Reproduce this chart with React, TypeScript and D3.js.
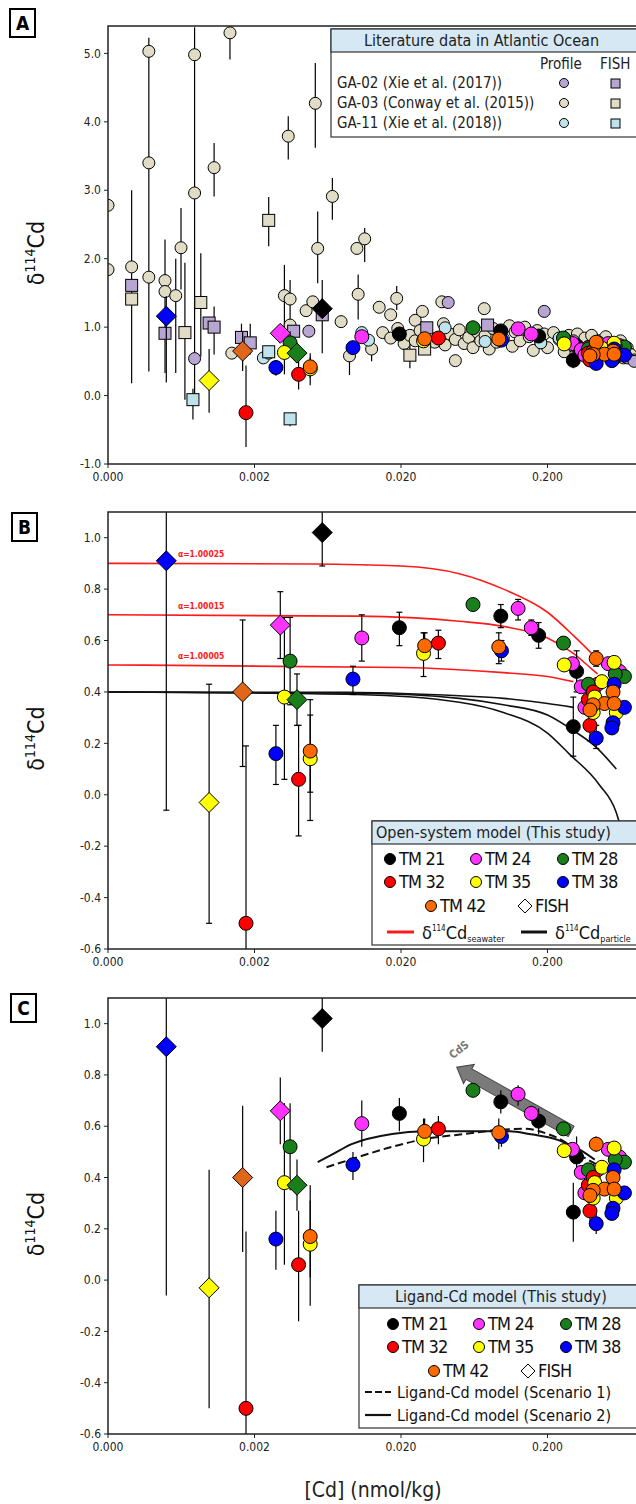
import React from 'react'
import * as d3 from 'd3'

// [x (nmol/kg), d114Cd, errLo?, errHi?]
type Pt = [number, number, number?, number?]

const stations = ['TM 21', 'TM 24', 'TM 28', 'TM 32', 'TM 35', 'TM 38', 'TM 42']
const stationColors = ['#000000', '#ff33ff', '#1a7f1a', '#ff0000', '#ffff00', '#0000ff', '#ff6a00']

const tm21: Pt[] = [[0.0195, 0.65, 0.58, 0.71], [0.096, 0.695, 0.65, 0.74], [0.174, 0.62, 0.57, 0.67], [0.3, 0.265, 0.15, 0.38], [0.316, 0.48, 0.4, 0.56]]
const tm24: Pt[] = [[0.0108, 0.61, 0.52, 0.7], [0.126, 0.725, 0.68, 0.76], [0.155, 0.65, 0.62, 0.68], [0.296, 0.51], [0.34, 0.42], [0.52, 0.51], [0.62, 0.48], [0.44, 0.43], [0.36, 0.34]]
const tm28: Pt[] = [[0.0035, 0.52, 0.35, 0.69], [0.062, 0.74], [0.257, 0.59], [0.67, 0.46], [0.38, 0.43], [0.58, 0.47]]
const tm32: Pt[] = [[0.00175, -0.5, -1.0, 0.19], [0.004, 0.06, -0.16, 0.27], [0.036, 0.59, 0.53, 0.64], [0.39, 0.27, 0.21, 0.33], [0.38, 0.37], [0.41, 0.4]]
const tm35: Pt[] = [[0.0032, 0.38, 0.06, 0.69], [0.0048, 0.14, -0.1, 0.37], [0.0285, 0.55, 0.46, 0.63], [0.26, 0.505], [0.47, 0.44], [0.57, 0.515], [0.59, 0.32], [0.41, 0.32], [0.42, 0.38]]
const tm38: Pt[] = [[0.0028, 0.16, 0.04, 0.27], [0.0094, 0.45, 0.39, 0.5], [0.097, 0.56, 0.52, 0.6], [0.57, 0.43], [0.67, 0.34], [0.56, 0.28], [0.55, 0.26], [0.43, 0.22, 0.18, 0.27]]
const tm42: Pt[] = [[0.0048, 0.17, 0.01, 0.31], [0.029, 0.58, 0.53, 0.63], [0.093, 0.575, 0.51, 0.63], [0.43, 0.53, 0.5, 0.56], [0.56, 0.4], [0.49, 0.355], [0.57, 0.355], [0.41, 0.35], [0.39, 0.33]]
const stationData = [tm21, tm24, tm28, tm32, tm35, tm38, tm42]

// FISH samples: [station index, x, y, lo, hi]
const fish: [number, number, number, number, number][] = [
  [5, 0.0005, 0.91, -0.06, 1.2], [0, 0.0058, 1.02, 0.89, 1.15], [1, 0.003, 0.66, 0.53, 0.79],
  [6, 0.00166, 0.4, 0.11, 0.68], [2, 0.0039, 0.37, 0.27, 0.47], [4, 0.00098, -0.03, -0.5, 0.43],
]
const fishColors = ['#000000', '#ff33ff', '#1a7f1a', '#ff0000', '#ffff00', '#0000ff', '#e0661a']
// panel A is plotted on a different reference standard
const offsetA = 0.25

const ga03Profile: Pt[] = [
  [0.0002, 2.78], [0.0002, 1.84], [0.00029, 1.88], [0.00038, 5.03], [0.00038, 3.4, 0.35, 5.23], [0.00038, 1.73],
  [0.00049, 1.68], [0.00049, 1.52], [0.00058, 1.46, 0.33, 2.0], [0.00063, 2.16, 1.55, 2.74], [0.00078, 4.98],
  [0.00078, 2.96, 0.03, 5.38], [0.00106, 3.33, 2.91, 3.69], [0.00136, 5.3, 4.91, 5.4], [0.0014, 0.62],
  [0.0032, 1.46, 0.91, 1.91], [0.0035, 1.41, 0.91, 1.69], [0.0034, 3.79, 3.45, 4.08], [0.0035, 1.03],
  [0.0045, 1.24], [0.005, 1.37], [0.0052, 4.27, 3.62, 4.86], [0.0054, 2.15, 1.64, 2.69], [0.0068, 2.91, 2.57, 3.18],
  [0.0078, 1.08], [0.0089, 0.58, 0.3, 0.75], [0.01, 2.15], [0.0113, 2.29, 1.95, 2.45], [0.0102, 1.48, 1.11, 1.77],
  [0.0126, 0.68, 0.5, 0.8], [0.0142, 1.29], [0.017, 1.18], [0.0187, 1.42, 1.25, 1.6], [0.025, 1.1], [0.028, 1.23],
  [0.038, 1.37], [0.039, 1.05], [0.047, 0.51], [0.074, 1.27],
  [0.015, 0.92], [0.017, 0.84], [0.019, 0.98], [0.021, 0.76], [0.023, 0.88], [0.025, 0.8], [0.027, 0.95],
  [0.029, 0.72], [0.031, 0.86], [0.034, 0.78], [0.037, 0.83], [0.04, 0.74], [0.043, 0.9], [0.047, 0.82],
  [0.05, 0.96], [0.054, 0.76], [0.058, 0.85], [0.062, 0.7], [0.066, 0.93], [0.07, 0.8], [0.075, 0.88],
  [0.08, 0.68], [0.085, 0.98], [0.09, 0.78], [0.095, 0.9], [0.1, 0.83], [0.11, 1.02], [0.115, 0.72],
  [0.12, 0.93], [0.13, 0.8], [0.14, 1.0], [0.15, 0.86], [0.16, 0.66], [0.17, 0.95], [0.18, 0.78],
  [0.19, 0.9], [0.2, 0.7], [0.22, 0.92], [0.24, 0.82], [0.26, 0.64], [0.28, 0.88], [0.3, 0.76],
  [0.32, 0.9], [0.34, 0.66], [0.36, 0.84], [0.38, 0.72], [0.4, 0.88], [0.42, 0.6], [0.45, 0.8],
  [0.48, 0.68], [0.5, 0.86], [0.53, 0.58], [0.56, 0.76], [0.6, 0.64], [0.63, 0.8], [0.66, 0.55],
  [0.7, 0.7], [0.74, 0.6], [0.78, 0.52],
]
const ga02Profile: Pt[] = [[0.00078, 0.54], [0.0047, 0.94], [0.042, 1.36], [0.19, 1.23], [0.3, 0.8], [0.45, 0.78], [0.6, 0.62], [0.7, 0.55], [0.78, 0.5], [0.37, 0.7], [0.55, 0.72]]
const ga11Profile: Pt[] = [[0.0023, 0.55], [0.0025, 0.62], [0.0108, 0.92], [0.012, 0.81], [0.04, 0.99], [0.075, 0.79], [0.18, 0.77], [0.24, 0.84], [0.3, 0.72], [0.5, 0.66], [0.62, 0.6]]
const ga02Fish: Pt[] = [[0.00029, 1.61], [0.00049, 0.91, 0.33, 2.28], [0.00098, 1.06], [0.00106, 1.0, 0.6, 1.3], [0.00163, 0.85, 0.6, 1.05], [0.00187, 0.77, 0.6, 1.05], [0.0037, 0.94], [0.0058, 1.18, 0.62, 1.69], [0.03, 0.99], [0.078, 1.03]]
const ga03Fish: Pt[] = [[0.00029, 1.41, 0.18, 3.0], [0.00067, 0.92, -0.06, 1.94], [0.00086, 1.36, 0.57, 2.08], [0.0025, 2.56, 2.18, 2.9], [0.023, 0.59, 0.4, 0.75], [0.029, 0.68]]
const ga11Fish: Pt[] = [[0.00076, -0.06, -0.35, 0.1], [0.0025, 0.64], [0.0035, -0.34, -0.45, -0.3]]
const litColors = ['#b8a6d2', '#e0dcc6', '#bfe3ec']
const litLabels = ['GA-02 (Xie et al. (2017))', 'GA-03 (Conway et al. (2015))', 'GA-11 (Xie et al. (2018))']

// open-system model curves (panel B)
const seawater: [number, number][][] = [
  [[0.0002, 0.9], [0.005, 0.898], [0.02, 0.89], [0.05, 0.86], [0.1, 0.8], [0.2, 0.71], [0.3, 0.62], [0.4, 0.55], [0.45, 0.52]],
  [[0.0002, 0.7], [0.01, 0.695], [0.05, 0.675], [0.1, 0.655], [0.2, 0.61], [0.3, 0.55], [0.4, 0.49], [0.44, 0.47]],
  [[0.0002, 0.505], [0.02, 0.495], [0.1, 0.475], [0.2, 0.46], [0.3, 0.44]],
]
const alphaLabels = ['α=1.00025', 'α=1.00015', 'α=1.00005']
const particle: [number, number][][] = [
  [[0.0002, 0.4], [0.01, 0.398], [0.05, 0.385], [0.1, 0.375], [0.2, 0.355], [0.3, 0.34]],
  [[0.0002, 0.4], [0.01, 0.395], [0.05, 0.375], [0.1, 0.35], [0.2, 0.31], [0.3, 0.25], [0.42, 0.19], [0.59, 0.1]],
  [[0.0002, 0.4], [0.01, 0.39], [0.05, 0.36], [0.1, 0.32], [0.2, 0.24], [0.28, 0.16], [0.45, 0.04], [0.59, -0.07], [0.8, -0.41], [1.0, -0.8]],
]
// ligand-Cd model (panel C)
const scenario1: [number, number][] = [[0.0062, 0.44], [0.0096, 0.475], [0.0174, 0.52], [0.029, 0.55], [0.055, 0.57], [0.098, 0.587], [0.14, 0.59], [0.2, 0.57], [0.26, 0.54], [0.33, 0.49], [0.42, 0.455]]
const scenario2: [number, number][] = [[0.0054, 0.46], [0.0068, 0.49], [0.0092, 0.53], [0.0174, 0.57], [0.029, 0.58], [0.08, 0.58], [0.11, 0.58], [0.15, 0.57], [0.24, 0.545], [0.33, 0.51], [0.42, 0.47]]
const cdsArrow: [number, number][] = [[0.29, 0.58], [0.048, 0.83]]

const xTicks = [0.0002, 0.002, 0.02, 0.2]
const xTickLabels = ['0.000', '0.002', '0.020', '0.200']
const yTicksA = [-1, 0, 1, 2, 3, 4, 5]
const yTicksBC = [-0.6, -0.4, -0.2, 0, 0.2, 0.4, 0.6, 0.8, 1.0]

const FONT = '"DejaVu Sans Condensed", "DejaVu Sans", sans-serif'
const LEFT = 108
const RIGHT = 700

type PanelCfg = { id: string; top: number; bottom: number; domain: [number, number]; ticks: number[]; fmt: (v: number) => string }

const Marker = ({ kind, x, y, r, fill }: { kind: string; x: number; y: number; r: number; fill: string }) => {
  if (kind === 'circle') return <circle cx={x} cy={y} r={r} fill={fill} stroke="#000" strokeWidth={1} />
  if (kind === 'square') return <rect x={x - r} y={y - r} width={2 * r} height={2 * r} fill={fill} stroke="#000" strokeWidth={1} />
  return <path d={`M${x},${y - r}L${x + r},${y}L${x},${y + r}L${x - r},${y}Z`} fill={fill} stroke="#000" strokeWidth={1} />
}

const ErrBar = ({ x, y1, y2, cap }: { x: number; y1: number; y2: number; cap: boolean }) => (
  <g stroke="#000" strokeWidth={1.2}>
    <line x1={x} x2={x} y1={y1} y2={y2} />
    {cap && <line x1={x - 3} x2={x + 3} y1={y1} y2={y1} />}
    {cap && <line x1={x - 3} x2={x + 3} y1={y2} y2={y2} />}
  </g>
)

const StudyMarks = ({ x, y, off, cap }: { x: d3.ScaleLogarithmic<number, number>; y: d3.ScaleLinear<number, number>; off: number; cap: boolean }) => (
  <g>
    {stationData.map((pts, si) =>
      pts.map((p, i) => p[2] !== undefined ? <ErrBar key={`e${si}-${i}`} x={x(p[0])} y1={y(p[2]! + off)} y2={y(p[3]! + off)} cap={cap} /> : null))}
    {fish.map((f, i) => <ErrBar key={`fe${i}`} x={x(f[1])} y1={y(f[3] + off)} y2={y(f[4] + off)} cap={cap} />)}
    {stationData.map((pts, si) =>
      pts.map((p, i) => <Marker key={`m${si}-${i}`} kind="circle" x={x(p[0])} y={y(p[1] + off)} r={7} fill={stationColors[si]} />))}
    {fish.map((f, i) => <Marker key={`fm${i}`} kind="diamond" x={x(f[1])} y={y(f[2] + off)} r={10} fill={fishColors[f[0]]} />)}
  </g>
)

const Panel = ({ cfg, children }: { cfg: PanelCfg; children: (x: any, y: any) => React.ReactNode }) => {
  const x = d3.scaleLog().domain([0.0002, 2]).range([LEFT, LEFT + 146.5 * 4])
  const y = d3.scaleLinear().domain(cfg.domain).range([cfg.bottom, cfg.top])
  return (
    <g>
      <defs>
        <clipPath id={`clip${cfg.id}`}>
          <rect x={LEFT} y={cfg.top} width={RIGHT - LEFT} height={cfg.bottom - cfg.top} />
        </clipPath>
      </defs>
      <g clipPath={`url(#clip${cfg.id})`}>{children(x, y)}</g>
      <rect x={LEFT} y={cfg.top} width={RIGHT - LEFT} height={cfg.bottom - cfg.top} fill="none" stroke="#222" strokeWidth={1.5} />
      {cfg.ticks.map((t) => (
        <g key={t}>
          <line x1={LEFT - 4} x2={LEFT} y1={y(t)} y2={y(t)} stroke="#222" />
          <text x={LEFT - 7} y={y(t)} dy="0.35em" textAnchor="end" fontSize={12} fontFamily={FONT} fill="#222">{cfg.fmt(t)}</text>
        </g>
      ))}
      {xTicks.map((t, i) => (
        <g key={t}>
          <line x1={x(t)} x2={x(t)} y1={cfg.bottom} y2={cfg.bottom + 4} stroke="#222" />
          <text x={x(t)} y={cfg.bottom + 17} textAnchor="middle" fontSize={12} fontFamily={FONT} fill="#222">{xTickLabels[i]}</text>
        </g>
      ))}
      <text transform={`translate(44,${(cfg.top + cfg.bottom) / 2 + 8}) rotate(-90)`} textAnchor="middle" fontSize={23} fontFamily={FONT} fill="#111">
        δ<tspan fontSize={14} dy={-9}>114</tspan><tspan dy={9}>Cd</tspan>
      </text>
    </g>
  )
}

const Legend = ({ x, y, w, h, hh, title, tx }: { x: number; y: number; w: number; h: number; hh: number; title: string; tx: number }) => (
  <g>
    <rect x={x} y={y} width={w} height={h} fill="#fff" stroke="#333" strokeWidth={1.2} />
    <rect x={x} y={y} width={w} height={hh} fill="#d6e8f4" stroke="#333" strokeWidth={1.2} />
    <text x={tx} y={y + hh / 2} dy="0.36em" fontSize={16} fontFamily={FONT} fill="#222">{title}</text>
  </g>
)

const LabelBox = ({ x, y, t }: { x: number; y: number; t: string }) => (
  <g>
    <rect x={x} y={y} width={25} height={28} fill="#fff" stroke="#000" strokeWidth={2} />
    <text x={x + 12.5} y={y + 21} textAnchor="middle" fontSize={19} fontWeight="bold" fontFamily="DejaVu Sans, sans-serif">{t}</text>
  </g>
)

const StationLegend = ({ x0, y0 }: { x0: number; y0: number }) => {
  const cols = [x0, x0 + 86, x0 + 173]
  const order = [[0, 1, 2], [3, 4, 5]]
  return (
    <g fontFamily={FONT} fontSize={18} fill="#111">
      {order.map((row, ri) => row.map((si, ci) => (
        <g key={si}>
          <circle cx={cols[ci]} cy={y0 + ri * 23} r={5.5} fill={stationColors[si]} stroke="#000" />
          <text x={cols[ci] + 9} y={y0 + ri * 23} dy="0.36em" style={{ letterSpacing: '-0.8px' }}>{stations[si]}</text>
        </g>
      )))}
      <circle cx={x0 + 41} cy={y0 + 47} r={5.5} fill={stationColors[6]} stroke="#000" />
      <text x={x0 + 50} y={y0 + 47} dy="0.36em" style={{ letterSpacing: '-0.8px' }}>{stations[6]}</text>
      <path d={`M${x0 + 135},${y0 + 40}l7,7l-7,7l-7,-7z`} fill="#fff" stroke="#000" />
      <text x={x0 + 145} y={y0 + 47} dy="0.36em" style={{ letterSpacing: '-0.8px' }}>FISH</text>
    </g>
  )
}

export default function App() {
  const line = d3.line<[number, number]>().curve(d3.curveMonotoneX)
  const cfgA: PanelCfg = { id: 'A', top: 26, bottom: 464, domain: [-1.0, 5.4], ticks: yTicksA, fmt: (v) => v.toFixed(1) }
  const cfgB: PanelCfg = { id: 'B', top: 512, bottom: 949, domain: [-0.6, 1.1], ticks: yTicksBC, fmt: (v) => v.toFixed(1) }
  const cfgC: PanelCfg = { id: 'C', top: 998, bottom: 1434, domain: [-0.6, 1.1], ticks: yTicksBC, fmt: (v) => v.toFixed(1) }
  const lit: [Pt[], string, number][] = [
    [ga03Profile, 'circle', 1], [ga02Profile, 'circle', 0], [ga11Profile, 'circle', 2],
    [ga02Fish, 'square', 0], [ga03Fish, 'square', 1], [ga11Fish, 'square', 2],
  ]
  return (
    <svg width={636} height={1504} style={{ position: 'absolute', left: 0, top: 0, background: '#fff', fontStretch: 'condensed' }}>
      <rect width={636} height={1504} fill="#fff" />
      <Panel cfg={cfgA}>
        {(x, y) => (
          <g>
            {lit.map(([pts], li) => pts.map((p, i) => p[2] !== undefined ?
              <ErrBar key={`le${li}-${i}`} x={x(p[0])} y1={y(p[2]!)} y2={y(p[3]!)} cap={false} /> : null))}
            {lit.map(([pts, kind, ci], li) => pts.map((p, i) =>
              <Marker key={`lm${li}-${i}`} kind={kind} x={x(p[0])} y={y(p[1])} r={6} fill={litColors[ci]} />))}
            <StudyMarks x={x} y={y} off={offsetA} cap={false} />
          </g>
        )}
      </Panel>
      <Panel cfg={cfgB}>
        {(x, y) => (
          <g>
            {seawater.map((c, i) => <path key={`s${i}`} d={line(c.map(([a, b]) => [x(a), y(b)]))!} fill="none" stroke="#ff1a1a" strokeWidth={1.6} />)}
            {particle.map((c, i) => <path key={`p${i}`} d={line(c.map(([a, b]) => [x(a), y(b)]))!} fill="none" stroke="#111" strokeWidth={1.6} />)}
            {alphaLabels.map((t, i) => (
              <text key={t} x={x(0.0006)} y={y(seawater[i][0][1]) - 6} fontSize={8.5} fontWeight="bold" fill="#ff1a1a" fontFamily="DejaVu Sans, sans-serif">{t}</text>
            ))}
            <StudyMarks x={x} y={y} off={0} cap={true} />
          </g>
        )}
      </Panel>
      <Panel cfg={cfgC}>
        {(x, y) => {
          const [p0, p1] = cdsArrow.map(([a, b]) => [x(a), y(b)])
          const ang = Math.atan2(p1[1] - p0[1], p1[0] - p0[0])
          const len = Math.hypot(p1[0] - p0[0], p1[1] - p0[1])
          return (
            <g>
              <g transform={`translate(${p0[0]},${p0[1]}) rotate(${(ang * 180) / Math.PI})`}>
                <path d={`M0,-6L${len - 14},-6L${len - 14},-11L${len},0L${len - 14},11L${len - 14},6L0,6Z`} fill="#7a7a7a" stroke="#444" strokeWidth={1} />
              </g>
              <text transform={`translate(${p1[0] - 4},${p1[1] - 8}) rotate(-38)`} fontSize={11} fontWeight="bold" fill="#777" fontFamily="DejaVu Sans, sans-serif">CdS</text>
              <path d={line(scenario1.map(([a, b]) => [x(a), y(b)]))!} fill="none" stroke="#111" strokeWidth={2} strokeDasharray="8,4" />
              <path d={line(scenario2.map(([a, b]) => [x(a), y(b)]))!} fill="none" stroke="#111" strokeWidth={2} />
              <StudyMarks x={x} y={y} off={0} cap={false} />
            </g>
          )
        }}
      </Panel>

      {/* legend A */}
      <Legend x={331} y={29} w={320} h={108} hh={23} title="Literature data in Atlantic Ocean" tx={364} />
      <g fontFamily={FONT} fontSize={15} fill="#222">
        <text x={540} y={69}>Profile</text>
        <text x={600} y={69}>FISH</text>
        {litLabels.map((t, i) => (
          <g key={t}>
            <text x={337} y={83 + i * 20} dy="0.35em">{t}</text>
            <circle cx={564} cy={83 + i * 20} r={4.5} fill={litColors[i]} stroke="#000" />
            <rect x={611} y={79 + i * 20} width={9} height={9} fill={litColors[i]} stroke="#000" />
          </g>
        ))}
      </g>

      {/* legend B */}
      <Legend x={372} y={821} w={290} h={124} hh={23} title="Open-system model (This study)" tx={376} />
      <StationLegend x0={390} y0={859} />
      <g fontFamily={FONT} fill="#111">
        <line x1={387} x2={414} y1={932} y2={932} stroke="#ff1a1a" strokeWidth={3} />
        <text x={422} y={939} fontSize={18}>δ<tspan fontSize={8} dy={-8}>114</tspan><tspan dy={8}>Cd</tspan><tspan fontSize={9} dy={3}>seawater</tspan></text>
        <line x1={521} x2={547} y1={932} y2={932} stroke="#111" strokeWidth={3} />
        <text x={555} y={939} fontSize={18}>δ<tspan fontSize={8} dy={-8}>114</tspan><tspan dy={8}>Cd</tspan><tspan fontSize={9} dy={3}>particle</tspan></text>
      </g>

      {/* legend C */}
      <Legend x={359} y={1285} w={300} h={143} hh={23} title="Ligand-Cd model (This study)" tx={395} />
      <StationLegend x0={393} y0={1324} />
      <g fontFamily={FONT} fontSize={16} fill="#111">
        <line x1={365} x2={391} y1={1392} y2={1392} stroke="#111" strokeWidth={2.2} strokeDasharray="7,3" />
        <text x={397} y={1392} dy="0.36em">Ligand-Cd model (Scenario 1)</text>
        <line x1={365} x2={391} y1={1415} y2={1415} stroke="#111" strokeWidth={2.2} />
        <text x={397} y={1415} dy="0.36em">Ligand-Cd model (Scenario 2)</text>
      </g>

      <LabelBox x={10} y={9} t="A" />
      <LabelBox x={12} y={513} t="B" />
      <LabelBox x={11} y={994} t="C" />
      <text x={373} y={1497} textAnchor="middle" fontSize={21} fontFamily={FONT} fill="#222">[Cd] (nmol/kg)</text>
    </svg>
  )
}
